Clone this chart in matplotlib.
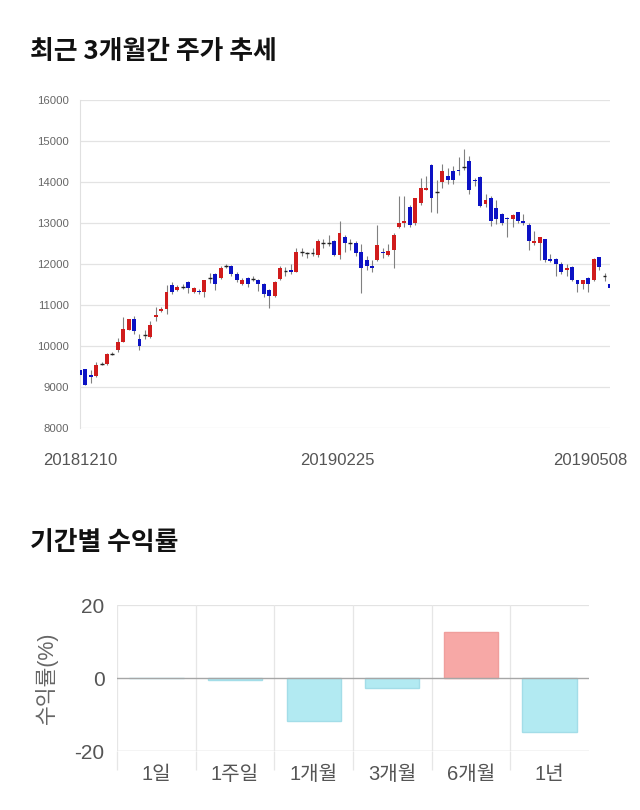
import numpy as np
import matplotlib
matplotlib.use('Agg')
import matplotlib.pyplot as plt
from matplotlib.transforms import ScaledTranslation

plt.rcParams['font.family'] = ['Liberation Sans', 'Noto Sans CJK KR']
plt.rcParams['axes.unicode_minus'] = False

# daily candles 2018-12-10 .. 2019-05-08
opens = [9420, 9440, 9300, 9260, 9560, 9550, 9810, 9910, 10110, 10400,
         10660, 10170, 10260, 10220, 10700, 10850, 10900, 11500, 11360, 11450,
         11560, 11320, 11350, 11310, 11650, 11760, 11660, 11960, 11960, 11760,
         11520, 11660, 11640, 11620, 11510, 11370, 11210, 11640, 11820, 11860,
         11800, 12290, 12260, 12260, 12210, 12510, 12510, 12560, 12210, 12650,
         12510, 12510, 12300, 12100, 11960, 12100, 12300, 12210, 12350, 12900,
         13000, 13400, 12990, 13500, 13810, 14420, 13750, 14010, 14150, 14270,
         14300, 14360, 14520, 14060, 14120, 13460, 13600, 13360, 13210, 13130,
         13100, 13260, 13050, 12950, 12510, 12510, 12600, 12120, 12120, 12010,
         11860, 11920, 11610, 11520, 11650, 11610, 12170, 11710, 11520]
highs = [9450, 9450, 9420, 9620, 9600, 9830, 9860, 10200, 10700, 10660,
         10740, 10300, 10380, 10600, 10960, 10960, 11500, 11560, 11480, 11520,
         11580, 11440, 11380, 11620, 11780, 11780, 11950, 12000, 11980, 11800,
         11650, 11690, 11700, 11640, 11530, 11400, 11580, 11950, 11920, 12000,
         12400, 12380, 12300, 12380, 12600, 12620, 12700, 12580, 13050, 12700,
         12600, 12550, 12500, 12200, 12100, 12960, 12400, 12480, 12750, 13660,
         13650, 13450, 13600, 14100, 14150, 14450, 14050, 14450, 14350, 14400,
         14600, 14800, 14640, 14100, 14150, 13700, 13650, 13550, 13250, 13150,
         13230, 13270, 13220, 13000, 12800, 12670, 12600, 12250, 12150, 12050,
         12000, 11950, 11620, 11620, 11680, 12150, 12180, 11780, 11530]
lows = [9250, 9050, 9100, 9250, 9540, 9540, 9780, 9850, 10100, 10380,
        10300, 9900, 10180, 10200, 10600, 10830, 10780, 11270, 11330, 11380,
        11300, 11300, 11280, 11200, 11540, 11360, 11640, 11900, 11700, 11560,
        11500, 11430, 11580, 11350, 11200, 10930, 11200, 11600, 11700, 11750,
        11800, 12200, 12150, 12200, 12180, 12400, 12450, 12200, 12120, 12300,
        12350, 12200, 11300, 11850, 11800, 12080, 12150, 12200, 11900, 12880,
        12900, 12900, 12950, 13450, 13800, 13260, 13250, 13860, 13950, 13950,
        14180, 14300, 13700, 13900, 13380, 13400, 12930, 12980, 12950, 12650,
        12900, 13000, 12950, 12350, 12470, 12100, 12050, 12050, 11700, 11750,
        11700, 11580, 11320, 11400, 11320, 11580, 11850, 11580, 11400]
closes = [9300, 9060, 9250, 9545, 9570, 9810, 9820, 10110, 10410, 10660,
          10360, 10010, 10270, 10520, 10760, 10900, 11310, 11310, 11450, 11460,
          11410, 11410, 11320, 11610, 11660, 11510, 11900, 11970, 11760, 11620,
          11620, 11520, 11630, 11520, 11270, 11210, 11570, 11900, 11830, 11810,
          12300, 12300, 12270, 12270, 12560, 12520, 12520, 12210, 12760, 12510,
          12520, 12260, 11910, 11960, 11910, 12470, 12260, 12320, 12710, 13010,
          13050, 12940, 13600, 13860, 13860, 13600, 13760, 14270, 14050, 14050,
          14270, 14370, 13810, 14030, 13410, 13550, 13060, 13110, 13010, 13090,
          13200, 13060, 13010, 12550, 12560, 12650, 12100, 12070, 12010, 11800,
          11900, 11610, 11520, 11610, 11520, 12120, 11920, 11710, 11410]
date_labels = ['20181210', '20190225', '20190508']
date_idx = [0, 49, 98]

periods = ['1일', '1주일', '1개월', '3개월', '6개월', '1년']
returns = [0.0, -0.45, -11.8, -2.8, 12.6, -14.8]

fig = plt.figure(figsize=(6.4, 8.1), dpi=100)

fig.text(0.047, 0.936, '최근 3개월간 주가 추세', fontsize=18.6, weight='bold',
         family=['Noto Sans CJK KR'], va='center', color='#111111')
fig.text(0.047, 0.330, '기간별 수익률', fontsize=18.6, weight='bold',
         family=['Noto Sans CJK KR'], va='center', color='#111111')

# candle chart
ax1 = fig.add_axes([0.125, 0.4716, 0.828, 0.4049])
o = np.array(opens); h = np.array(highs); l = np.array(lows); c = np.array(closes)
x = np.arange(len(o))
doji = np.abs(c - o) <= 10
cols = np.where(c > o, '#d01c1c', '#0c12c4')
ax1.vlines(x, l, h, color='#808080', linewidth=0.8, zorder=2)
ax1.bar(x[~doji], (c - o)[~doji], bottom=o[~doji], width=0.72,
        color=cols[~doji], zorder=3)
ax1.hlines(o[doji], x[doji] - 0.36, x[doji] + 0.36, color='#222222',
           linewidth=1.0, zorder=3)
ax1.set_xlim(0, len(o) - 1)
ax1.set_ylim(8000, 16000)
ax1.set_yticks(np.arange(8000, 16001, 1000))
ax1.grid(axis='y', color='#e3e3e3', linewidth=0.9)
ax1.set_axisbelow(True)
for s in ['top', 'right', 'bottom']:
    ax1.spines[s].set_visible(False)
ax1.spines['left'].set_color('#e0e0e0')
ax1.tick_params(axis='y', length=0, pad=8, labelsize=8.2, labelcolor='#666666')
ax1.set_xticks(date_idx)
ax1.set_xticklabels(date_labels)
ax1.tick_params(axis='x', length=0, pad=18, labelsize=12, labelcolor='#555555')
lbls = ax1.get_xticklabels()
lbls[1].set_transform(lbls[1].get_transform() + ScaledTranslation(-0.08, 0, fig.dpi_scale_trans))
lbls[2].set_transform(lbls[2].get_transform() + ScaledTranslation(-0.2, 0, fig.dpi_scale_trans))

# returns chart
ax2 = fig.add_axes([0.183, 0.0728, 0.737, 0.1802])
r = np.array(returns)
bar_cols = np.where(r > 0, '#f7a8a6', '#b2eaf2')
edge_cols = np.where(r > 0, '#f09e9c', '#a3dde8')
ax2.bar(np.arange(len(periods)), r, width=0.69, color=bar_cols,
        edgecolor=edge_cols, linewidth=1, zorder=3)
ax2.set_xlim(-0.5, len(periods) - 0.5)
ax2.set_ylim(-20, 20)
ax2.set_yticks([-20, 0, 20])
ax2.set_xticks(np.arange(len(periods)))
ax2.set_xticklabels(periods)
ax2.set_xticks(np.arange(len(periods)) - 0.5, minor=True)
ax2.grid(axis='x', which='minor', color='#e6e6e6', linewidth=0.9)
ax2.axhline(20, color='#e3e3e3', linewidth=0.9, zorder=1)
ax2.axhline(0, color='#a6a6a6', linewidth=1.0, zorder=4)
ax2.axhline(-20, color='#c8c8c8', linewidth=1.0, zorder=1)
for s in ax2.spines.values():
    s.set_visible(False)
ax2.tick_params(axis='x', which='major', length=0, pad=10, labelsize=14.5,
                labelcolor='#555555')
ax2.tick_params(axis='x', which='minor', length=14, width=0.9, color='#e6e6e6')
ax2.tick_params(axis='y', length=0, pad=9, labelsize=15, labelcolor='#555555')
ax2.set_ylabel('수익률(%)', fontsize=15.5, color='#666666', labelpad=12)

fig.savefig('out.png', dpi=100)
